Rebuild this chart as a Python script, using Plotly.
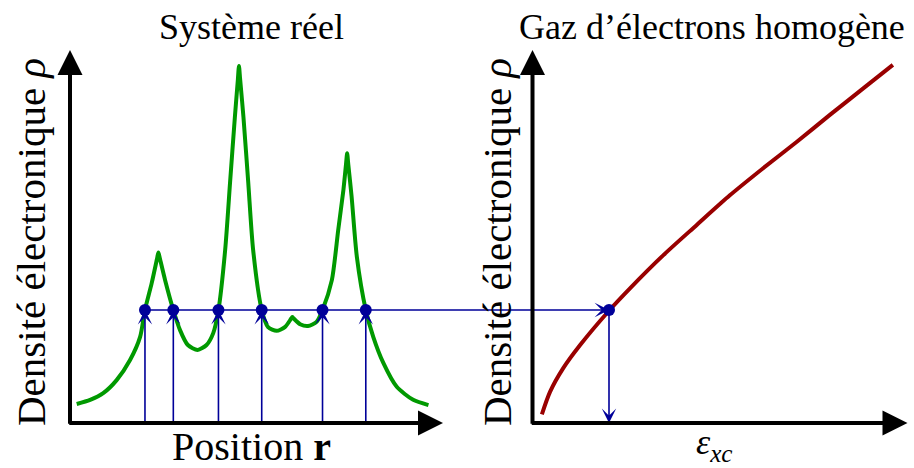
import plotly.graph_objects as go

# ---------------- data ----------------
# Left panel: real system, electron density along a position coordinate
position = [0.18, 0.54, 0.89, 1.25, 1.61, 1.88, 2.01, 2.19, 2.33, 2.37, 2.41, 2.55, 2.77, 2.95,
            3.16, 3.42, 3.66, 3.84, 3.98, 4.16, 4.29, 4.42, 4.50, 4.53, 4.56, 4.65, 4.78,
            4.91, 5.14, 5.31, 5.54, 5.76, 5.93, 5.96, 5.99, 6.17, 6.38, 6.61, 6.77, 7.02,
            7.19, 7.33, 7.40, 7.43, 7.46, 7.55, 7.69, 7.93, 8.13, 8.40, 8.76, 9.20, 9.61]
density_real = [0.51, 0.62, 0.80, 1.15, 1.69, 2.31, 3.03, 3.75, 4.39, 4.57, 4.41, 3.83, 3.03, 2.49,
                2.09, 1.96, 2.09, 2.41, 3.03, 4.64, 6.43, 8.20, 9.20, 9.57, 9.23, 8.20, 6.43,
                4.64, 3.03, 2.57, 2.47, 2.57, 2.80, 2.84, 2.81, 2.65, 2.60, 2.71, 3.03, 3.83,
                5.17, 6.25, 6.94, 7.23, 6.94, 6.07, 4.46, 3.03, 2.31, 1.61, 0.97, 0.62, 0.48]
crossings = [2.01, 2.77, 3.98, 5.14, 6.77, 7.93]
rho_level = 3.03

# Right panel: homogeneous electron gas, density vs exchange-correlation energy
eps_xc = [0.25, 0.47, 0.82, 1.27, 2.04, 2.60, 3.49, 4.38, 5.27, 6.15, 7.05, 7.93, 8.82, 9.61]
density_gas = [0.23, 0.84, 1.47, 2.09, 3.01, 3.61, 4.50, 5.31, 6.11, 6.83, 7.54, 8.26, 8.97, 9.60]
eps_point = 2.04

# text
title_left = "Système réel"
title_right = "Gaz d’électrons homogène"
ylabel = "Densité électronique <i>ρ</i>"
xlabel_left = "Position <b>r</b>"
xlabel_right = "<i>ε</i><sub><i>xc</i></sub>"

# ---------------- styling ----------------
W, H = 914, 468
GREEN = "#009900"
RED = "#990000"
BLUE = "#000099"
FONT = "Liberation Serif, serif"
X_RANGE = [0, 10]
Y_RANGE = [0, 10]
left_dom = [70 / W, 443 / W]
right_dom = [532.5 / W, 907.5 / W]
y_dom = [45 / H, 418 / H]


def left_to_right_units(p):
    """convert a left-panel x value into right-panel x units via the axis domains"""
    paper = left_dom[0] + (p - X_RANGE[0]) / (X_RANGE[1] - X_RANGE[0]) * (left_dom[1] - left_dom[0])
    return X_RANGE[0] + (paper - right_dom[0]) / (right_dom[1] - right_dom[0]) * (X_RANGE[1] - X_RANGE[0])


fig = go.Figure()

fig.add_trace(go.Scatter(x=position, y=density_real, mode="lines", xaxis="x", yaxis="y",
                         line=dict(color=GREEN, width=4, shape="spline", smoothing=0.7),
                         hoverinfo="skip"))
fig.add_trace(go.Scatter(x=eps_xc, y=density_gas, mode="lines", xaxis="x2", yaxis="y",
                         line=dict(color=RED, width=4, shape="spline", smoothing=0.8),
                         hoverinfo="skip"))
fig.add_trace(go.Scatter(x=crossings, y=[rho_level] * len(crossings), mode="markers",
                         xaxis="x", yaxis="y", marker=dict(color=BLUE, size=12),
                         cliponaxis=False, hoverinfo="skip"))
fig.add_trace(go.Scatter(x=[eps_point], y=[rho_level], mode="markers",
                         xaxis="x2", yaxis="y", marker=dict(color=BLUE, size=12),
                         cliponaxis=False, hoverinfo="skip"))

ann = []


def arrow(xref, x, y, ax, ay, color, width, head, size):
    ann.append(dict(xref=xref, yref="y", axref=xref, ayref="y", x=x, y=y, ax=ax, ay=ay,
                    text="", showarrow=True, arrowhead=head, arrowsize=size,
                    arrowwidth=width, arrowcolor=color, standoff=0, startstandoff=0))


# vertical blue arrows from the position axis up to the crossings
for c in crossings:
    arrow("x", c, rho_level, c, Y_RANGE[0], BLUE, 1.6, 3, 1.5)
# horizontal arrow from the first crossing to the gas curve
arrow("x2", eps_point, rho_level, left_to_right_units(crossings[0]), rho_level, BLUE, 1.6, 3, 1.5)
# down arrow to the eps axis
arrow("x2", eps_point, Y_RANGE[0], eps_point, rho_level, BLUE, 1.6, 3, 1.5)

# black axis arrows
pad = 0.06
for xr in ["x", "x2"]:
    arrow(xr, X_RANGE[0], Y_RANGE[1], X_RANGE[0], Y_RANGE[0] - pad, "black", 4, 2, 1.25)
    arrow(xr, X_RANGE[1], Y_RANGE[0], X_RANGE[0] - pad, Y_RANGE[0], "black", 4, 2, 1.25)


def text(t, x, y, size, angle=0):
    ann.append(dict(xref="paper", yref="paper", x=x / W, y=1 - y / H, text=t,
                    showarrow=False, xanchor="center", yanchor="middle", textangle=angle,
                    font=dict(family=FONT, size=size, color="black")))


text(title_left, 251, 27, 36)
text(title_right, 712, 27, 36)
text(xlabel_left, 251, 446, 40)
text(xlabel_right, 714, 444, 36)
text(ylabel, 31, 242, 41, -90)
text(ylabel, 497, 242, 41, -90)

axis_common = dict(visible=False, showgrid=False, zeroline=False, fixedrange=True)
fig.update_layout(
    width=W, height=H,
    margin=dict(l=0, r=0, t=0, b=0),
    paper_bgcolor="white", plot_bgcolor="white",
    showlegend=False,
    font=dict(family=FONT),
    xaxis=dict(domain=left_dom, range=X_RANGE, anchor="y", **axis_common),
    xaxis2=dict(domain=right_dom, range=X_RANGE, anchor="y", **axis_common),
    yaxis=dict(domain=y_dom, range=Y_RANGE, anchor="x", **axis_common),
    annotations=ann,
)

fig.write_html("out.html", config={"displayModeBar": False},
               post_script="document.body.style.margin='0px';document.body.style.overflow='hidden';")
